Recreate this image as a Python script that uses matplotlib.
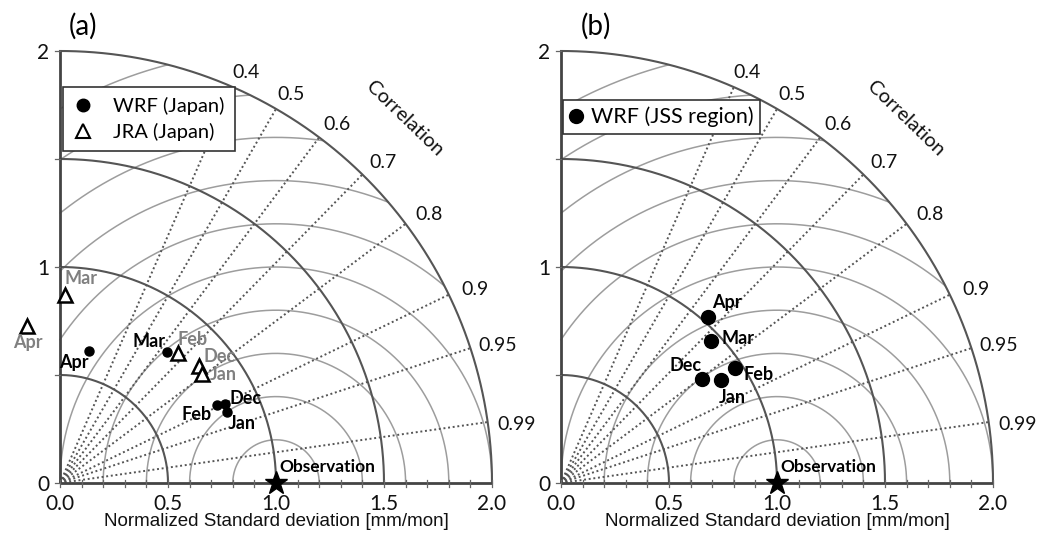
import numpy as np
import matplotlib
matplotlib.use("Agg")
import matplotlib.pyplot as plt
from matplotlib.lines import Line2D

# ---------------- data ----------------
months = ["Dec", "Jan", "Feb", "Mar", "Apr"]
# panel (a)
wrf_japan_std = [0.847, 0.842, 0.810, 0.783, 0.627]
wrf_japan_corr = [0.902, 0.920, 0.895, 0.635, 0.216]
jra_japan_std = [0.841, 0.829, 0.815, 0.871, 0.743]
jra_japan_corr = [0.765, 0.793, 0.672, 0.027, -0.204]
# panel (b)
wrf_jss_std = [0.810, 0.880, 0.966, 0.957, 1.025]
wrf_jss_corr = [0.804, 0.840, 0.834, 0.726, 0.663]

corr_ticks = [0.4, 0.5, 0.6, 0.7, 0.8, 0.9, 0.95, 0.99]
corr_labels = ["0.4", "0.5", "0.6", "0.7", "0.8", "0.9", "0.95", "0.99"]
std_arcs = [0.5, 1.0, 1.5, 2.0]
rms_arcs = [0.2, 0.4, 0.6, 0.8, 1.0, 1.2, 1.4, 1.6, 1.8, 2.0]
x_ticklabels = ["0.0", "0.5", "1.0", "1.5", "2.0"]
y_ticklabels = ["0", "1", "2"]

# ---------------- layout ----------------
W, H = 1042, 533
S = 216.0          # pixels per unit
Y0 = 483.0         # pixel row of y=0 (from top)
FONT = "Lato"
GREY = "#808080"
DARK = "#555555"

fig = plt.figure(figsize=(W / 100, H / 100), dpi=100)


def make_ax(left_px, width_px, x0_px):
    ax = fig.add_axes([left_px / W, 0, width_px / W, 1])
    ax.set_xlim((left_px - x0_px) / S, (left_px + width_px - x0_px) / S)
    ax.set_ylim((Y0 - H) / S, Y0 / S)
    ax.axis("off")
    return ax


def xy(std, corr):
    std = np.asarray(std, float)
    corr = np.asarray(corr, float)
    return std * corr, std * np.sqrt(1 - corr ** 2)


def draw_frame(ax):
    th = np.linspace(0, np.pi / 2, 300)
    for r in rms_arcs:
        t = np.linspace(0, np.pi, 800)
        x = 1 + r * np.cos(t)
        y = r * np.sin(t)
        m = (x >= 0) & (x ** 2 + y ** 2 <= 4.0 + 1e-9)
        x = np.where(m, x, np.nan)
        ax.plot(x, y, color="#9d9d9d", lw=1.1, zorder=1)
    for r in std_arcs:
        ax.plot(r * np.cos(th), r * np.sin(th), color=DARK, lw=1.5, zorder=2)
    for c, lab in zip(corr_ticks, corr_labels):
        a = np.arccos(c)
        ax.plot([0, 2 * np.cos(a)], [0, 2 * np.sin(a)], color=DARK, lw=1.4,
                ls=(0, (1, 1.4)), zorder=2)
        rl = 2.08 + 0.05 * c ** 2
        al = a - np.deg2rad(0.8)
        ax.text(rl * np.cos(al), rl * np.sin(al), lab, ha="center", va="center",
                fontsize=14, family=FONT, color="#111")
    ax.text(2.32 * np.cos(np.deg2rad(46.6)), 2.32 * np.sin(np.deg2rad(46.6)),
            "Correlation", rotation=-44, ha="center", va="center",
            fontsize=14.5, family=FONT, color="#111", rotation_mode="anchor")
    # axes
    ax.plot([0, 2], [0, 0], color="#444", lw=2.0, zorder=3, solid_capstyle="butt")
    ax.plot([0, 0], [0, 2], color="#444", lw=2.0, zorder=3, solid_capstyle="butt")
    for v in np.arange(0, 2.0001, 0.1):
        ax.plot([v, v], [-0.02, 0.012], color="#666", lw=0.9, zorder=3)
    for v in [0.0, 0.5, 1.0, 1.5, 2.0]:
        ax.plot([-0.025, 0], [v, v], color="#666", lw=0.9, zorder=3)
    for v, lab in zip([0.0, 0.5, 1.0, 1.5, 2.0], x_ticklabels):
        ax.text(v, -21 / S, lab, ha="center", va="center", fontsize=15,
                family=FONT, color="#111")
    for v, lab in zip([0, 1, 2], y_ticklabels):
        ax.text(-17 / S, v - 0.01, lab, ha="center", va="center", fontsize=15,
                family=FONT, color="#111")
    ax.text(1.0, -39 / S, "Normalized Standard deviation [mm/mon]", ha="center",
            va="center", fontsize=13.5, family="Liberation Sans", color="#111")
    # observation
    ax.plot([1.0], [0.0], marker="*", ms=17, color="black", zorder=6, clip_on=False)
    ax.annotate("Observation", (1.0, 0.0), xytext=(3, 16), textcoords="offset pixels",
                ha="left", va="center", fontsize=12.5, family=FONT, weight="bold")


def label_points(ax, xs, ys, names, offsets, color):
    for x, y, n in zip(xs, ys, names):
        dx, dy = offsets[n]
        ax.annotate(n, (x, y), xytext=(dx, -dy), textcoords="offset pixels",
                    ha="center", va="center", fontsize=13, family=FONT,
                    weight="bold", color=color, zorder=7)


# ---------------- panel (a) ----------------
axa = make_ax(0, 520, 60)
draw_frame(axa)
wx, wy = xy(wrf_japan_std, wrf_japan_corr)
jx, jy = xy(jra_japan_std, jra_japan_corr)
axa.plot(wx, wy, "o", ms=6.5, color="black", ls="none", zorder=5,
         label="WRF (Japan)", clip_on=False)
axa.plot(jx, jy, "^", ms=10, mfc="white", mec="black", mew=1.8, ls="none",
         zorder=5, label="JRA (Japan)", clip_on=False)
off_wrf_a = {"Apr": (-15, 12), "Mar": (-18, -10.5), "Feb": (-20, 10),
             "Dec": (21, -6), "Jan": (14.5, 11.5)}
off_jra_a = {"Mar": (15.5, -16), "Apr": (1, 16.5), "Feb": (14.5, -13.5),
             "Dec": (21, -9.5), "Jan": (21, 1)}
label_points(axa, wx, wy, months, off_wrf_a, "black")
label_points(axa, jx, jy, months, off_jra_a, GREY)
h1 = Line2D([], [], marker="o", ls="none", color="black", ms=9)
h2 = Line2D([], [], marker="^", ls="none", mfc="white", mec="black", mew=1.5, ms=10)
leg = axa.legend([h1, h2], ["WRF (Japan)", "JRA (Japan)"], loc="upper left",
                 bbox_to_anchor=(63 / 520, 1 - 87 / 533), borderaxespad=0,
                 fancybox=False, edgecolor="#333", framealpha=1,
                 prop={"family": FONT, "size": 14.5}, handlelength=1.0,
                 handletextpad=1.0, borderpad=0.5, labelspacing=0.4)
leg.get_frame().set_linewidth(1.2)
leg.set_zorder(8)
axa.text((83 - 60) / S, (Y0 - 26) / S, "(a)", ha="center", va="center",
         fontsize=20, family=FONT)

# ---------------- panel (b) ----------------
axb = make_ax(521, 521, 561)
draw_frame(axb)
bx, by = xy(wrf_jss_std, wrf_jss_corr)
axb.plot(bx, by, "o", ms=10, color="black", ls="none", zorder=5, clip_on=False)
off_b = {"Apr": (19, -14.5), "Mar": (27, -2.5), "Feb": (23.5, 6.5),
         "Dec": (-16, -13), "Jan": (12, 17.5)}
label_points(axb, bx, by, months, off_b, "black")
h3 = Line2D([], [], marker="o", ls="none", color="black", ms=10)
legb = axb.legend([h3], ["WRF (JSS region)"], loc="upper left",
                  bbox_to_anchor=((563 - 521) / 521, 1 - 100 / 533), borderaxespad=0,
                  fancybox=False, edgecolor="#333", framealpha=1,
                  prop={"family": FONT, "size": 15.5}, handlelength=0.6,
                  handletextpad=0.4, borderpad=0.3)
legb.get_frame().set_linewidth(1.2)
legb.set_zorder(8)
axb.text((596 - 561) / S, (Y0 - 26) / S, "(b)", ha="center", va="center",
         fontsize=20, family=FONT)

fig.savefig("out.png", dpi=100)
